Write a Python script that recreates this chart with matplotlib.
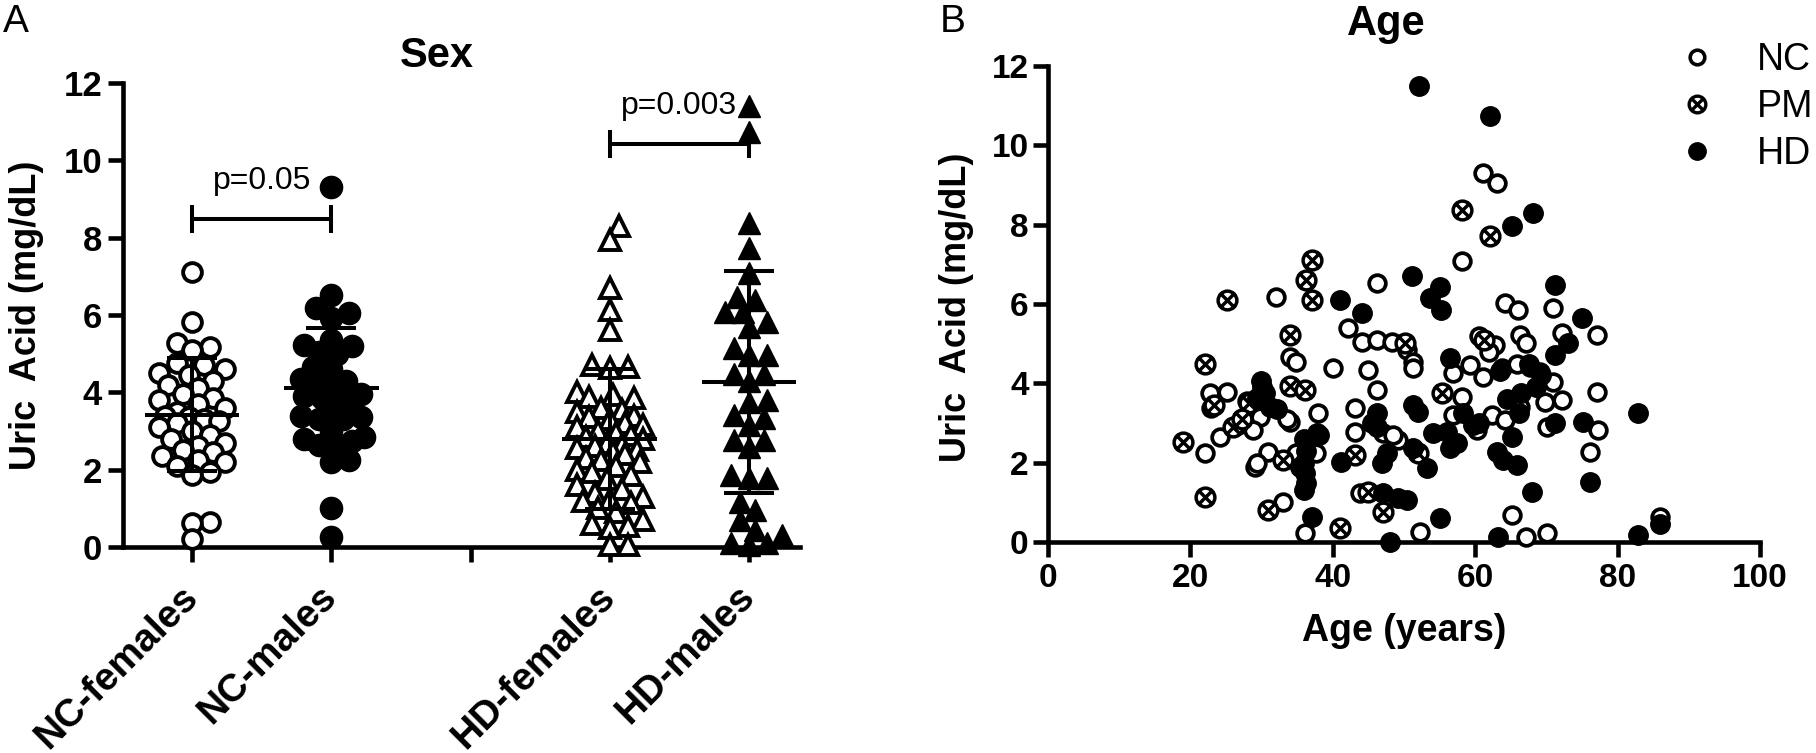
import numpy as np
import matplotlib
matplotlib.use('Agg')
import matplotlib.pyplot as plt
from matplotlib.path import Path
from matplotlib.lines import Line2D

plt.rcParams['font.family'] = ['Liberation Sans', 'DejaVu Sans']

# ---- panel A: uric acid by sex (mg/dL) ----
group_names = ['NC-females', 'NC-males', '', 'HD-females', 'HD-males']
nc_females = [7.1, 5.82, 5.27, 5.17, 5.09, 4.75, 4.7, 4.6, 4.5, 4.45, 4.3, 4.2, 4.1,
              3.95, 3.85, 3.8, 3.7, 3.6, 3.5, 3.4, 3.35, 3.3, 3.25, 3.2, 3.1, 3.0,
              2.9, 2.8, 2.7, 2.6, 2.5, 2.45, 2.35, 2.25, 2.2, 2.1, 1.95, 1.85,
              0.65, 0.62, 0.2]
nc_males = [9.3, 6.52, 6.18, 6.05, 5.92, 5.35, 5.22, 5.2, 5.05, 5.0, 4.65, 4.6, 4.35,
            4.3, 4.2, 4.1, 3.95, 3.9, 3.9, 3.85, 3.6, 3.5, 3.4, 3.35, 3.3, 3.3, 3.0,
            2.85, 2.8, 2.75, 2.65, 2.6, 2.25, 2.2, 1.0, 0.26]
hd_females = [8.3, 7.95, 6.7, 6.13, 5.61, 4.7, 4.65, 4.62, 4.0, 3.92, 3.88, 3.85,
              3.6, 3.55, 3.5, 3.4, 3.35, 3.3, 3.2, 3.15, 3.1, 3.0, 2.95, 2.9, 2.85,
              2.8, 2.7, 2.65, 2.6, 2.55, 2.5, 2.45, 2.4, 2.3, 2.25, 2.2, 2.1, 2.0,
              1.95, 1.85, 1.75, 1.6, 1.5, 1.4, 1.3, 1.25, 1.2, 1.15, 1.0, 0.9, 0.7,
              0.6, 0.55, 0.5, 0.05, 0.05]
hd_males = [11.4, 10.73, 8.38, 7.73, 7.08, 6.47, 6.39, 6.08, 6.08, 5.82, 5.69, 5.15,
            4.96, 4.96, 4.47, 4.47, 4.3, 3.8, 3.75, 3.41, 3.33, 3.15, 2.77, 2.77, 2.59,
            1.86, 1.78, 1.78, 1.16, 0.96, 0.7, 0.44, 0.31, 0.1, 0.1, 0.05]
group_mean = [3.42, 4.10, 2.79, 4.27]
group_sd = [1.46, 1.56, 1.81, 2.88]
p_pairs = [(1, 2), (4, 5)]
p_heights = [8.48, 10.42]
p_labels = ['p=0.05', 'p=0.003']

# ---- panel B: uric acid vs age ----
nc_age = [32.0, 42.1, 34.0, 34.8, 40.0, 22.8, 25.1, 22.9, 27.9, 29.8, 37.9, 34.0, 28.8,
          26.7, 24.2, 22.1, 30.9, 29.1, 37.7, 34.9, 33.0, 36.1, 43.8, 46.2, 44.1, 46.2,
          48.3, 50.4, 51.3, 51.3, 44.9, 46.2, 43.1, 43.1, 47.1, 49.2, 56.9, 59.3, 61.1,
          58.1, 61.1, 62.8, 64.2, 66.0, 70.9, 72.2, 77.1, 66.3, 67.2, 63.8, 65.9, 67.7,
          69.1, 70.9, 72.2, 69.8, 60.2, 62.4, 64.2, 66.3, 70.1, 77.2, 77.1, 76.1, 86.0,
          65.2, 67.2, 70.1, 52.2, 61.1, 63.1, 58.1, 56.9, 60.5, 29.3, 33.5, 48.5, 62.0]
nc_uric = [6.18, 5.39, 4.66, 4.54, 4.38, 3.76, 3.78, 3.38, 3.55, 3.15, 3.25, 3.03, 2.82,
           2.95, 2.65, 2.24, 2.27, 1.89, 2.24, 2.24, 1.01, 0.23, 1.23, 6.52, 5.04, 5.09,
           5.04, 4.84, 4.54, 4.38, 4.34, 3.83, 3.38, 2.77, 2.75, 2.57, 4.26, 4.46, 4.16,
           3.66, 5.09, 4.97, 6.02, 5.85, 5.90, 5.27, 5.22, 5.22, 5.02, 4.38, 4.50, 4.41,
           4.29, 4.03, 3.58, 3.53, 2.82, 3.20, 3.08, 3.40, 2.90, 2.82, 3.78, 2.27, 0.62,
           0.68, 0.13, 0.23, 0.25, 9.30, 9.05, 7.09, 3.20, 5.20, 2.00, 3.10, 2.70, 4.80]
pm_age = [37.1, 36.2, 37.1, 25.1, 34.0, 22.1, 34.0, 36.1, 28.2, 23.3, 26.0, 19.0, 33.0,
          22.1, 30.9, 41.0, 43.1, 44.9, 47.1, 50.1, 52.0, 55.3, 58.1, 62.1, 61.2, 27.2]
pm_uric = [7.10, 6.60, 6.10, 6.10, 5.22, 4.50, 3.93, 3.83, 3.50, 3.45, 2.90, 2.52, 2.07,
           1.13, 0.80, 0.35, 2.19, 1.26, 0.76, 5.02, 2.24, 3.76, 8.37, 7.71, 5.10, 3.10]
hd_age = [52.1, 62.1, 68.1, 65.2, 51.1, 55.1, 53.7, 55.2, 41.0, 44.1, 71.2, 75.0, 73.0,
          71.2, 56.5, 29.9, 30.5, 29.3, 31.2, 32.2, 36.0, 36.2, 36.0, 36.1, 36.2, 36.0,
          38.0, 35.4, 41.2, 37.1, 46.2, 46.2, 46.9, 47.6, 47.1, 49.2, 50.4, 48.0, 51.3,
          52.0, 51.3, 53.2, 54.1, 56.0, 56.5, 55.1, 58.3, 59.7, 60.5, 63.1, 63.9, 65.9,
          65.2, 66.2, 68.0, 63.2, 71.2, 75.1, 76.1, 82.9, 82.9, 86.0, 67.5, 68.5, 69.2,
          64.5, 66.5, 63.5, 37.8, 30.0, 45.5, 57.5]
hd_uric = [11.49, 10.74, 8.29, 7.97, 6.70, 6.43, 6.15, 5.85, 6.10, 5.77, 6.48, 5.64, 5.01,
           4.71, 4.64, 4.05, 3.75, 3.62, 3.40, 3.35, 2.60, 2.30, 2.00, 1.75, 1.50, 1.30,
           2.70, 1.89, 2.02, 0.63, 3.25, 2.90, 1.99, 2.24, 1.23, 1.10, 1.06, 0.00, 3.45,
           3.28, 2.37, 1.87, 2.75, 2.77, 2.37, 0.60, 3.25, 2.95, 3.00, 2.27, 2.07, 1.94,
           2.65, 3.25, 1.26, 0.13, 3.00, 3.03, 1.51, 3.25, 0.18, 0.45, 4.50, 3.90, 4.20,
           3.60, 3.75, 4.30, 2.75, 3.90, 3.00, 2.50]

W, H = 1816, 753


def fx(px):
    return px / W


def fy(py):
    return 1 - py / H


def swarm(ax, vals, pos, diam, max_half, step=3.0):
    # simple beeswarm, done in display pixels so spacing follows the marker size
    pts = ax.transData.transform(np.column_stack([np.full(len(vals), pos), vals]))
    x0 = pts[0, 0]
    ys = pts[:, 1]
    cands = [0.0]
    k = 1
    while k * step <= max_half:
        cands += [k * step, -k * step]
        k += 1
    placed = []
    xs = np.zeros(len(vals))
    for i in np.argsort(ys):
        best, best_d = 0.0, -1.0
        for c in cands:
            d = min([np.hypot(c - px, ys[i] - py) for px, py in placed] or [1e9])
            if d >= diam:
                best = c
                break
            if d > best_d:
                best, best_d = c, d
        placed.append((best, ys[i]))
        xs[i] = best
    back = ax.transData.inverted().transform(np.column_stack([x0 + xs, ys]))
    return back[:, 0]


def style_axes(ax, tick_size):
    for side in ['top', 'right']:
        ax.spines[side].set_visible(False)
    for side in ['left', 'bottom']:
        ax.spines[side].set_linewidth(3.3)
    ax.tick_params(axis='both', length=11, width=3.3, labelsize=tick_size)
    for lab in ax.get_xticklabels() + ax.get_yticklabels():
        lab.set_fontweight('bold')


fig = plt.figure(figsize=(W / 100, H / 100), dpi=100)

# ---------------- panel A ----------------
axA = fig.add_axes([fx(123), fy(547), fx(800 - 123), (547 - 83) / H])
axA.set_xlim(0.504, 5.366)
axA.set_ylim(0, 12)
axA.set_yticks(range(0, 13, 2))
axA.set_xticks(range(1, 6))
axA.set_xticklabels(group_names)
style_axes(axA, 25)
axA.tick_params(axis='y', pad=4)
axA.tick_params(axis='x', pad=21)
for lab in axA.get_xticklabels():
    lab.set_rotation(45)
    lab.set_ha('right')
    lab.set_va('center')
    lab.set_rotation_mode('anchor')
    lab.set_fontsize(28)

series_a = [(nc_females, 1, 'o', 'white', 13.5, 2.8),
            (nc_males, 2, 'o', 'black', 16, 1.0),
            (hd_females, 4, '^', 'white', 14.5, 2.8),
            (hd_males, 5, '^', 'black', 16, 1.0)]
for vals, pos, mk, fc, ms, mew in series_a:
    xs = swarm(axA, vals, pos, diam=16, max_half=33)
    axA.plot(xs, vals, ls='none', marker=mk, mfc=fc, mec='black', ms=ms, mew=mew,
             clip_on=False, zorder=3)

for pos, m, s in zip([1, 2, 4, 5], group_mean, group_sd):
    kw = dict(color='black', lw=2.9, solid_capstyle='butt', zorder=4)
    axA.plot([pos - 0.34, pos + 0.34], [m, m], **kw)
    axA.plot([pos - 0.18, pos + 0.18], [m + s, m + s], **kw)
    axA.plot([pos - 0.18, pos + 0.18], [m - s, m - s], **kw)
    axA.plot([pos, pos], [m - s, m + s], **kw)

for (a, b), h, txt in zip(p_pairs, p_heights, p_labels):
    kw = dict(color='black', lw=2.9, solid_capstyle='butt', clip_on=False)
    axA.plot([a, b], [h, h], **kw)
    axA.plot([a, a], [h - 0.36, h + 0.36], **kw)
    axA.plot([b, b], [h - 0.36, h + 0.36], **kw)
    axA.text((a + b) / 2, h + 0.78, txt, ha='center', va='baseline', fontsize=23,
             zorder=2)

fig.text(fx(27), fy(315), 'Uric  Acid (mg/dL)', rotation=90, ha='center', va='center',
         fontsize=26, fontweight='bold')
fig.text(fx(437), fy(67), 'Sex', ha='center', va='baseline', fontsize=30,
         fontweight='bold')
fig.text(fx(3), fy(32), 'A', ha='left', va='baseline', fontsize=28)

# ---------------- panel B ----------------
axB = fig.add_axes([fx(1048), fy(542), fx(1760 - 1048), (542 - 66) / H])
axB.set_xlim(0, 100)
axB.set_ylim(0, 12)
axB.set_xticks(range(0, 101, 20))
axB.set_yticks(range(0, 13, 2))
style_axes(axB, 24)
axB.tick_params(axis='y', pad=3)
axB.tick_params(axis='x', pad=4)

s = 0.6
pm_marker = Path.make_compound_path(
    Path.unit_circle(),
    Path([(-s, -s), (s, s), (-s, s), (s, -s)],
         [Path.MOVETO, Path.LINETO, Path.MOVETO, Path.LINETO]))

axB.plot(nc_age, nc_uric, ls='none', marker='o', mfc='white', mec='black', ms=12,
         mew=2.7, clip_on=False, zorder=3)
axB.plot(pm_age, pm_uric, ls='none', marker=pm_marker, mfc='white', mec='black',
         ms=13.5, mew=2.5, clip_on=False, zorder=3)
axB.plot(hd_age, hd_uric, ls='none', marker='o', mfc='black', mec='black', ms=14,
         mew=1, clip_on=False, zorder=3)

handles = [Line2D([], [], ls='none', marker='o', mfc='white', mec='black', ms=10.5, mew=2.6),
           Line2D([], [], ls='none', marker=pm_marker, mfc='white', mec='black', ms=12, mew=2.4),
           Line2D([], [], ls='none', marker='o', mfc='black', mec='black', ms=12.5)]
axB.legend(handles, ['NC', 'PM', 'HD'], loc='upper left',
           bbox_to_anchor=(fx(1678), fy(42)), bbox_transform=fig.transFigure,
           frameon=False, fontsize=27, borderpad=0, borderaxespad=0,
           handlelength=1.0, handletextpad=1.1, labelspacing=0.3)

fig.text(fx(956), fy(307), 'Uric  Acid (mg/dL)', rotation=90, ha='center', va='center',
         fontsize=26, fontweight='bold')
fig.text(fx(1404), fy(641), 'Age (years)', ha='center', va='baseline', fontsize=27,
         fontweight='bold')
fig.text(fx(1386), fy(35), 'Age', ha='center', va='baseline', fontsize=30,
         fontweight='bold')
fig.text(fx(940), fy(32), 'B', ha='left', va='baseline', fontsize=28)

fig.savefig('out.png', dpi=100)
